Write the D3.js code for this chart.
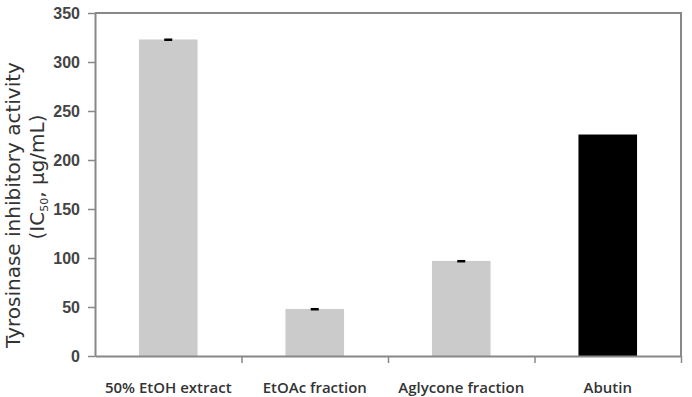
<!DOCTYPE html>
<html>
<head>
<meta charset="utf-8">
<script src="https://cdn.jsdelivr.net/npm/d3@7"></script>
<style>
  body { margin: 0; background: #fff; }
  svg { display: block; font-family: "Open Sans", "Liberation Sans", Arial, sans-serif; }
</style>
</head>
<body>
<div id="chart"></div>
<script>
// data
const categories = ['50% EtOH extract', 'EtOAc fraction', 'Aglycone fraction', 'Abutin'];
const values = [323, 48, 97, 226];
const errors = [1, 1, 1, 0];
const yTicks = [0, 50, 100, 150, 200, 250, 300, 350];

const W = 692, H = 397;
const margin = { top: 13, right: 11, bottom: 41, left: 95 };
const width = W - margin.left - margin.right;
const height = H - margin.top - margin.bottom;

const svg = d3.select('#chart').append('svg')
    .attr('width', W)
    .attr('height', H)
    .append('g')
    .attr('transform', `translate(${margin.left},${margin.top})`);

const x = d3.scaleBand()
    .domain(categories)
    .range([0, width])
    .paddingInner(0.6)
    .paddingOuter(0.3);

const y = d3.scaleLinear()
    .domain([0, 350])
    .range([height, 0]);

const axisColor = '#888';

// frame (top + right)
svg.append('path')
    .attr('d', `M0,0H${width}V${height}`)
    .attr('fill', 'none')
    .attr('stroke', axisColor)
    .attr('stroke-width', 2);

// bars
svg.selectAll('.bar')
    .data(categories)
    .enter()
    .append('rect')
    .attr('class', 'bar')
    .attr('x', d => x(d))
    .attr('width', x.bandwidth())
    .attr('y', (d, i) => y(values[i]))
    .attr('height', (d, i) => height - y(values[i]))
    .attr('fill', (d, i) => i === 3 ? '#000' : '#cbcbcb');

// error bars (tiny)
categories.forEach((c, i) => {
    if (!errors[i]) return;
    const cx = x(c) + x.bandwidth() / 2;
    svg.append('rect')
        .attr('x', cx - 4)
        .attr('width', 8)
        .attr('y', y(values[i] + errors[i]))
        .attr('height', Math.max(2.5, y(values[i] - errors[i]) - y(values[i] + errors[i])))
        .attr('fill', '#000');
});

// y axis
const yAxis = svg.append('g')
    .call(d3.axisLeft(y).tickValues(yTicks).tickSize(7).tickSizeOuter(0).tickPadding(8));
yAxis.select('.domain').attr('stroke', axisColor).attr('stroke-width', 2);
yAxis.selectAll('line').attr('stroke', axisColor).attr('stroke-width', 1.5);
yAxis.selectAll('text')
    .attr('fill', '#444')
    .style('font-size', '16px')
    .style('font-weight', '600');

// x axis: ticks at category boundaries
const xb = d3.scaleLinear().domain([0, categories.length]).range([0, width]);
const xAxis = svg.append('g')
    .attr('transform', `translate(0,${height})`)
    .call(d3.axisBottom(xb).tickValues([1, 2, 3, 4]).tickSize(7).tickSizeOuter(0).tickFormat(''));
xAxis.select('.domain').attr('stroke', axisColor).attr('stroke-width', 2);
xAxis.selectAll('line').attr('stroke', axisColor).attr('stroke-width', 1.5);

// category labels
svg.selectAll('.cat-label')
    .data(categories)
    .enter()
    .append('text')
    .attr('class', 'cat-label')
    .attr('x', d => x(d) + x.bandwidth() / 2)
    .attr('y', height + 37)
    .attr('text-anchor', 'middle')
    .style('font-size', '15px')
    .style('font-weight', '600')
    .attr('fill', '#333')
    .text(d => d);

// y-axis title, two lines (not centred on the plot in the original)
svg.append('text')
    .attr('transform', `translate(${-margin.left + 20},${205 - margin.top}) rotate(-90)`)
    .attr('text-anchor', 'middle')
    .style('font-family', '"DejaVu Sans", sans-serif')
    .style('font-size', '20px')
    .attr('fill', '#333')
    .text('Tyrosinase inhibitory activity');

const title2 = svg.append('text')
    .attr('transform', `translate(${-margin.left + 44},${177 - margin.top}) rotate(-90)`)
    .attr('text-anchor', 'middle')
    .style('font-family', '"DejaVu Sans", sans-serif')
    .style('font-size', '20px')
    .attr('fill', '#333');
title2.append('tspan').text('(IC');
title2.append('tspan').attr('dy', 4).style('font-size', '11px').text('50');
title2.append('tspan').attr('dy', -4).text(', μg/mL)');
</script>
</body>
</html>
